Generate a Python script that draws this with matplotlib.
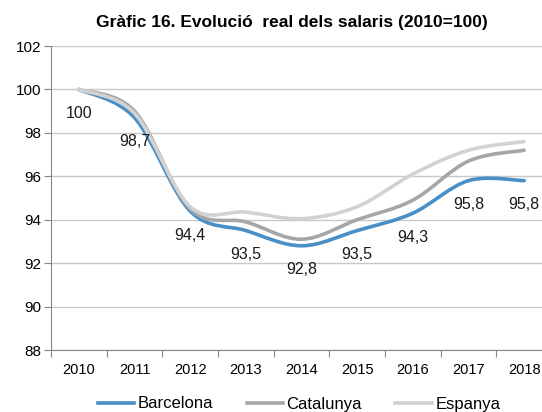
import matplotlib
matplotlib.use("Agg")
import matplotlib.pyplot as plt
from matplotlib.path import Path
from matplotlib.patches import PathPatch
from matplotlib.lines import Line2D

plt.rcParams['font.family'] = ['Liberation Sans', 'DejaVu Sans']

years = ['2010', '2011', '2012', '2013', '2014', '2015', '2016', '2017', '2018']
barcelona = [100, 98.7, 94.4, 93.5, 92.8, 93.5, 94.3, 95.8, 95.8]
catalunya = [100, 99.0, 94.5, 93.9, 93.1, 94.0, 94.9, 96.7, 97.2]
espanya = [100, 98.9, 94.6, 94.35, 94.05, 94.6, 96.1, 97.2, 97.6]
bcn_labels = ['100', '98,7', '94,4', '93,5', '92,8', '93,5', '94,3', '95,8', '95,8']

series = [('Barcelona', barcelona, '#4a8ec6'),
          ('Catalunya', catalunya, '#a6a6a6'),
          ('Espanya', espanya, '#d2d2d2')]


def smooth_path(xs, ys):
    # Excel-style smoothed line: cubic bezier through every point
    pts = list(zip(xs, ys))
    verts = [pts[0]]
    codes = [Path.MOVETO]
    n = len(pts)
    for i in range(n - 1):
        p0 = pts[i - 1] if i > 0 else pts[i]
        p1 = pts[i]
        p2 = pts[i + 1]
        p3 = pts[i + 2] if i + 2 < n else pts[i + 1]
        c1 = (p1[0] + (p2[0] - p0[0]) / 6, p1[1] + (p2[1] - p0[1]) / 6)
        c2 = (p2[0] - (p3[0] - p1[0]) / 6, p2[1] - (p3[1] - p1[1]) / 6)
        verts += [c1, c2, p2]
        codes += [Path.CURVE4] * 3
    return Path(verts, codes)


fig = plt.figure(figsize=(5.42, 4.12), dpi=100)
ax = fig.add_axes([51 / 542, 62 / 412, 501 / 542, 304 / 412])

x = list(range(len(years)))
handles = []
for name, vals, color in series:
    patch = PathPatch(smooth_path(x, vals), facecolor='none', edgecolor=color,
                      lw=2.6, capstyle='round', joinstyle='round', zorder=3)
    ax.add_patch(patch)
    handles.append(Line2D([], [], color=color, lw=2.6, label=name))

for xi, v, lab in zip(x, barcelona, bcn_labels):
    ax.annotate(lab, (xi, v), xytext=(0, -24), textcoords='offset pixels',
                ha='center', va='center', fontsize=11.5, color='#1a1a1a',
                annotation_clip=False)

ax.set_xlim(-0.5, len(years) - 0.5)
ax.set_ylim(88, 102)
ax.set_yticks(range(88, 103, 2))
ax.set_xticks([i - 0.5 for i in range(len(years) + 1)])
ax.set_xticklabels([])
ax.set_xticks(x, minor=True)
ax.set_xticklabels(years, minor=True)
ax.tick_params(axis='x', which='minor', length=0, pad=9, labelsize=10.5)
ax.tick_params(axis='x', which='major', length=5, color='#868686', direction='out')
ax.tick_params(axis='y', length=5, color='#868686', labelsize=11, pad=2)

ax.grid(axis='y', color='#c8c8c8', lw=1)
ax.set_axisbelow(True)
for side in ['top', 'right']:
    ax.spines[side].set_visible(False)
for side in ['left', 'bottom']:
    ax.spines[side].set_color('#868686')

fig.text(292 / 542, 1 - 22 / 412, 'Gràfic 16. Evolució  real dels salaris (2010=100)',
         ha='center', va='center', fontsize=12.5, fontweight='bold')

fig.legend(handles=handles, loc='center', bbox_to_anchor=(299 / 542, 1 - 404 / 412),
           ncol=3, frameon=False, fontsize=12, handlelength=2.2,
           handletextpad=0.2, columnspacing=2.0)

fig.savefig('out.png', dpi=100)
